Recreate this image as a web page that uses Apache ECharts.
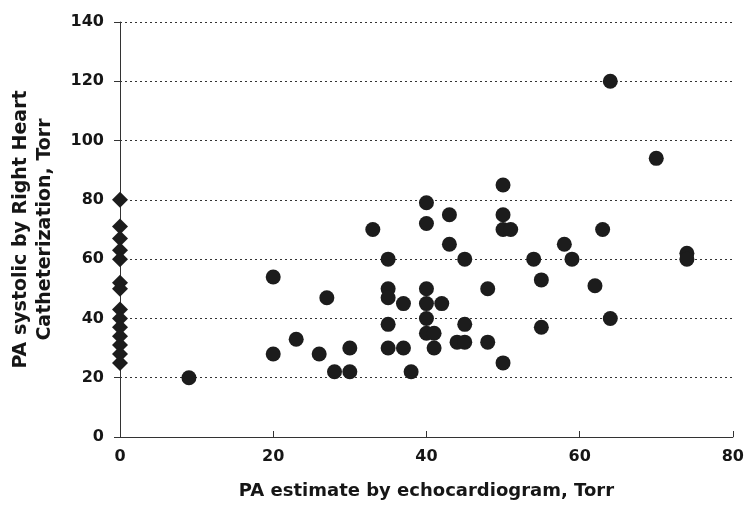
<!DOCTYPE html>
<html>
<head>
<meta charset="utf-8">
<script src="https://cdn.jsdelivr.net/npm/echarts@6/dist/echarts.min.js"></script>
<style>html,body{margin:0;padding:0;background:#fff;}#c{width:747px;height:505px;}</style>
</head>
<body>
<div id="c"></div>
<script>
// Diamonds: echo estimate = 0
const zeroX = [0,0,0,0,0,0,0,0,0,0,0,0,0,0];
const zeroY = [80,71,67,63,60,52,50,43,40,37,34,31,28,25];
// Circles
const echoX = [9,20,20,23,26,27,28,30,30,33,35,35,35,35,35,37,37,38,40,40,40,40,40,40,41,41,42,43,43,44,45,45,45,48,48,50,50,50,50,51,54,55,55,58,59,62,63,64,64,70,74,74];
const cathY = [20,54,28,33,28,47,22,30,22,70,60,50,47,38,30,45,30,22,79,72,50,45,40,35,35,30,45,75,65,32,60,38,32,50,32,85,75,70,25,70,60,53,37,65,60,51,70,120,40,94,62,60];
const xTicks = [0,20,40,60,80];
const yTicks = [0,20,40,60,80,100,120,140];

const font = 'DejaVu Sans';
const chart = echarts.init(document.getElementById('c'));
chart.setOption({
  animation: false,
  backgroundColor: '#fff',
  grid: {left: 120, right: 11, top: 22, bottom: 67},
  xAxis: {
    type: 'value', min: xTicks[0], max: xTicks[xTicks.length-1], interval: 20,
    name: 'PA estimate by echocardiogram, Torr', nameLocation: 'middle', nameGap: 45,
    nameTextStyle: {fontFamily: font, fontWeight: 'bold', fontSize: 18, color: '#161616'},
    axisLine: {lineStyle: {color: '#333', width: 1}},
    axisTick: {show: true, inside: true, length: 6, lineStyle: {color: '#333'}},
    axisLabel: {fontFamily: font, fontWeight: 'bold', fontSize: 16, color: '#161616', margin: 12},
    splitLine: {show: false}
  },
  yAxis: {
    type: 'value', min: yTicks[0], max: yTicks[yTicks.length-1], interval: 20,
    name: 'PA systolic by Right Heart\nCatheterization, Torr', nameLocation: 'middle', nameGap: 63,
    nameTextStyle: {fontFamily: font, fontWeight: 'bold', fontSize: 19, color: '#161616', lineHeight: 24},
    axisLine: {show: true, lineStyle: {color: '#333', width: 1}},
    axisTick: {show: true, inside: false, length: 6, lineStyle: {color: '#333'}},
    axisLabel: {fontFamily: font, fontWeight: 'bold', fontSize: 16, color: '#161616', margin: 16},
    splitLine: {show: true, lineStyle: {color: '#333', type: [2, 3], width: 1}}
  },
  series: [
    {type: 'scatter', symbol: 'diamond', symbolSize: 16, itemStyle: {color: '#1c1c1c', opacity: 1},
     data: zeroX.map((x, i) => [x, zeroY[i]])},
    {type: 'scatter', symbol: 'circle', symbolSize: 15, itemStyle: {color: '#1c1c1c', opacity: 1},
     data: echoX.map((x, i) => [x, cathY[i]])}
  ]
});
</script>
</body>
</html>
